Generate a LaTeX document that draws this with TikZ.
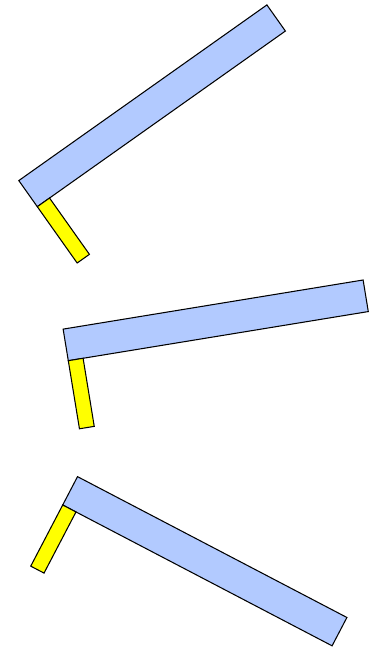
\documentclass[tikz,border=0pt]{standalone}
\usepackage{tikz}
\usepackage{xcolor}
\definecolor{armblue}{RGB}{178,202,255}
\definecolor{handyellow}{RGB}{255,255,0}

\begin{document}
\begin{tikzpicture}[x=0.02cm, y=0.02cm, line width=0.6pt, line join=miter]
        \useasboundingbox (0,0) rectangle (375,650);
        % pivot x / pivot y / angle of the long arm
        \foreach \px/\py/\ang in {37.3/443.3/35.3, 68.3/289.3/9.3, 62.7/145/-27.6}
        {
          \begin{scope}[shift={(\px,\py)}, rotate=\ang]
            \draw[fill=armblue] (0,0) rectangle (304,32);
            \draw[fill=handyellow] (0,0) rectangle (15,-69);
          \end{scope}
        }
      \end{tikzpicture}
\end{document}
